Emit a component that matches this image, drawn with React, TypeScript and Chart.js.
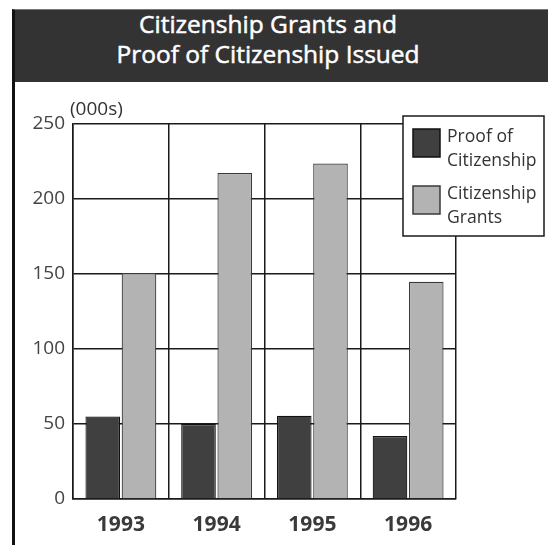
import React, { useEffect, useRef } from "react";
import { Chart, registerables } from "chart.js";

Chart.register(...registerables);

// Years shown on the x axis
const years = ["1993", "1994", "1995", "1996"];
// Thousands issued per year
const proofOfCitizenship = [55, 50, 55.5, 42];
const citizenshipGrants = [150.7, 217.3, 223.7, 144.8];
// Legend labels, one line per entry
const proofLabel = ["Proof of", "Citizenship"];
const grantsLabel = ["Citizenship", "Grants"];
const yTicks = [0, 50, 100, 150, 200, 250];
const unitLabel = "(000s)";
const titleLines = ["Citizenship Grants and", "Proof of Citizenship Issued"];

const FONT = "'Open Sans', 'Noto Sans', sans-serif";
const DARK = "#404040";
const LIGHT = "#b3b3b3";
const INK = "#1a1a1a";

// Boxed legend drawn over the top-right corner of the plot, plus the unit label.
const boxLegend = {
  id: "boxLegend",
  afterDraw(chart: any) {
    const { ctx, chartArea } = chart;
    ctx.save();
    // unit label above the y axis
    ctx.font = `19px ${FONT}`;
    ctx.fillStyle = "#333";
    ctx.textAlign = "left";
    ctx.textBaseline = "alphabetic";
    ctx.fillText(unitLabel, chartArea.left - 3, chartArea.top - 9);

    const bx = chartArea.right - 53;
    const by = chartArea.top - 8;
    const bw = 141;
    const bh = 120;
    ctx.fillStyle = "#fff";
    ctx.fillRect(bx, by, bw, bh);
    ctx.strokeStyle = INK;
    ctx.lineWidth = 1.5;
    ctx.strokeRect(bx, by, bw, bh);

    const items = chart.data.datasets.map((ds: any, i: number) => ({
      lines: ds.legendLines as string[],
      fill: ds.backgroundColor,
      stroke: ds.borderColor,
      top: i === 0 ? 13 : 70,
    }));
    items.forEach((it: any) => {
      ctx.fillStyle = it.fill;
      ctx.fillRect(bx + 10, by + it.top, 27, 28);
      ctx.strokeStyle = it.stroke;
      ctx.lineWidth = 1.5;
      ctx.strokeRect(bx + 10, by + it.top, 27, 28);
      ctx.fillStyle = "#333";
      ctx.font = `17.6px ${FONT}`;
      it.lines.forEach((t: string, j: number) => {
        ctx.fillText(t, bx + 44, by + it.top + 13 + j * 23.5);
      });
    });
    ctx.restore();
  },
};

export default function App() {
  const ref = useRef<HTMLCanvasElement>(null);

  useEffect(() => {
    if (!ref.current) return;
    const chart = new Chart(ref.current, {
      type: "bar",
      data: {
        labels: years,
        datasets: [
          {
            label: proofLabel.join(" "),
            legendLines: proofLabel,
            data: proofOfCitizenship,
            backgroundColor: DARK,
            borderColor: "#111",
            borderWidth: 1.2,
            barPercentage: 0.955,
            categoryPercentage: 0.757,
          } as any,
          {
            label: grantsLabel.join(" "),
            legendLines: grantsLabel,
            data: citizenshipGrants,
            backgroundColor: LIGHT,
            borderColor: "#3a3a3a",
            borderWidth: 1.2,
            barPercentage: 0.955,
            categoryPercentage: 0.757,
          } as any,
        ],
      },
      options: {
        animation: false,
        responsive: false,
        maintainAspectRatio: false,
        layout: { padding: { top: 42, right: 92, left: 0, bottom: 0 } },
        plugins: {
          legend: { display: false },
          tooltip: { enabled: false },
          title: { display: false },
        },
        scales: {
          x: {
            grid: {
              display: true,
              offset: true,
              color: INK,
              lineWidth: 1.5,
              drawTicks: false,
            },
            border: { display: true, color: INK, width: 1.5 },
            ticks: {
              color: "#3a3a3a",
              font: { family: FONT, size: 21, weight: "bold" },
              padding: 13,
            },
            afterFit(scale: any) {
              scale.height = 46;
            },
          },
          y: {
            min: 0,
            max: 250,
            afterBuildTicks(scale: any) {
              scale.ticks = yTicks.map((v) => ({ value: v }));
            },
            grid: {
              display: true,
              color: INK,
              lineWidth: 1.5,
              drawTicks: false,
            },
            border: { display: true, color: INK, width: 1.5 },
            ticks: {
              color: "#444",
              font: { family: FONT, size: 19 },
              padding: 8,
            },
            afterFit(scale: any) {
              scale.width = 73;
            },
          },
        },
      },
      plugins: [boxLegend],
    });
    return () => chart.destroy();
  }, []);

  return (
    <div
      style={{
        position: "fixed",
        left: 0,
        top: 0,
        width: 548,
        height: 545,
        background: "#fff",
        overflow: "hidden",
      }}
    >
      {/* outer frame: heavy left rule and a faint top edge */}
      <div
        style={{
          position: "absolute",
          left: 12,
          top: 9,
          width: 560,
          height: 560,
          borderLeft: "3px solid #111",
          borderTop: "1px solid #777",
          boxSizing: "border-box",
        }}
      />
      {/* title band */}
      <div
        style={{
          position: "absolute",
          left: 15,
          top: 10,
          width: 560,
          height: 72,
          background: "#333",
        }}
      />
      <div
        style={{
          position: "absolute",
          left: 12,
          top: 9,
          width: 512,
          textAlign: "center",
          color: "#fff",
          fontFamily: FONT,
          fontWeight: 400,
          fontSize: 24.5,
          lineHeight: "30px",
          WebkitTextStroke: "0.5px #fff",
        }}
      >
        {titleLines.map((t) => (
          <div key={t}>{t}</div>
        ))}
      </div>
      <canvas
        ref={ref}
        width={548}
        height={463}
        style={{ position: "absolute", left: 0, top: 82, width: 548, height: 463 }}
      />
    </div>
  );
}
